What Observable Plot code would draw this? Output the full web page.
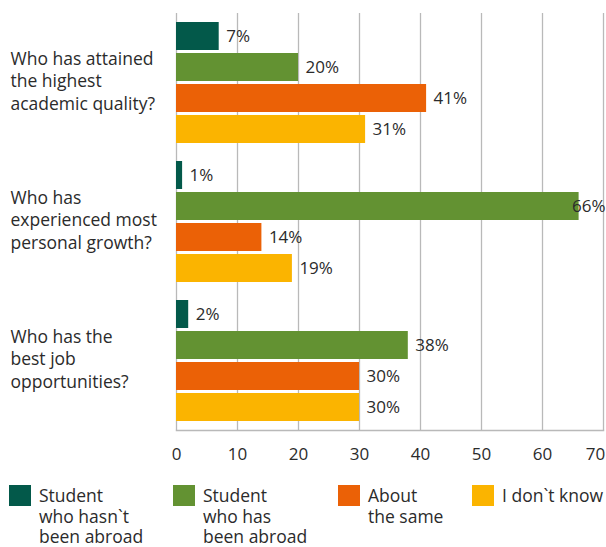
<!DOCTYPE html>
<html>
<head>
<meta charset="utf-8">
<script src="https://cdn.jsdelivr.net/npm/d3@7"></script>
<script src="https://cdn.jsdelivr.net/npm/@observablehq/plot@0.6"></script>
<style>
  body { margin: 0; background: #fff; font-family: "Open Sans", sans-serif; color: #2b2b2b; }
  #legend { display: flex; padding: 15px 0 0 9px; font-size: 17.5px; line-height: 20.5px; }
  .item { display: flex; align-items: flex-start; }
  .item:nth-child(1) { width: 164px; }
  .item:nth-child(2) { width: 165px; }
  .item:nth-child(3) { width: 134px; }
  .sw { width: 22px; height: 21px; margin-right: 8px; flex: none; }
  .lbl { margin-top: 0px; white-space: nowrap; }
</style>
</head>
<body>
<div id="chart"></div>
<div id="legend"></div>
<script>
const questions = [
  "Who has attained\nthe highest\nacademic quality?",
  "Who has\nexperienced most\npersonal growth?",
  "Who has the\nbest job\nopportunities?"
];
const series = [
  "Student\nwho hasn`t\nbeen abroad",
  "Student\nwho has\nbeen abroad",
  "About\nthe same",
  "I don`t know"
];
const colors = ["#03594a", "#639232", "#eb6106", "#fbb400"];
const notAbroad = [7, 1, 2];
const abroad = [20, 66, 38];
const same = [41, 14, 30];
const dontKnow = [31, 19, 30];
const xTicks = [0, 10, 20, 30, 40, 50, 60, 70];

const seriesValues = [notAbroad, abroad, same, dontKnow];
const data = [];
questions.forEach((q, qi) => {
  series.forEach((s, si) => {
    data.push({q, s, v: seriesValues[si][qi]});
  });
});

const overflow = d => d.v > 64;

const plot = Plot.plot({
  width: 606,
  height: 470,
  marginTop: 13,
  marginBottom: 40,
  marginLeft: 176,
  marginRight: 3,
  style: {fontFamily: "Open Sans, sans-serif", color: "#2b2b2b", background: "#fff"},
  x: {domain: [0, 70], ticks: xTicks, axis: null},
  y: {domain: series, paddingInner: 0.09, paddingOuter: 0.24, axis: null},
  fy: {domain: questions, padding: 0, axis: null},
  color: {domain: series, range: colors},
  marks: [
    Plot.gridX(xTicks, {stroke: "#b9b9b9", strokeOpacity: 1, strokeWidth: 1.3}),
    Plot.frame({anchor: "bottom", facetAnchor: "bottom", stroke: "#b9b9b9", strokeWidth: 1.5}),
    Plot.barX(data, {x: "v", y: "s", fy: "q", fill: "s"}),
    Plot.text(data.filter(d => !overflow(d)), {x: "v", y: "s", fy: "q", text: d => d.v + "%", textAnchor: "start", dx: 7, fontSize: 17, fill: "#2b2b2b"}),
    Plot.text(data.filter(overflow), {frameAnchor: "right", y: "s", fy: "q", text: d => d.v + "%", textAnchor: "end", dx: 2, fontSize: 17, fill: "#2b2b2b"}),
    Plot.text(questions, {fy: d => d, text: d => d, frameAnchor: "left", textAnchor: "start", dx: -166, dy: -3, lineHeight: 1.3, fontSize: 17.5, fill: "#2b2b2b"}),
    Plot.axisX(xTicks.slice(0, -1), {tickSize: 0, tickPadding: 17, fontSize: 17, fill: "#2b2b2b", label: null}),
    Plot.axisX(xTicks.slice(-1), {tickSize: 0, tickPadding: 17, fontSize: 17, fill: "#2b2b2b", label: null, dx: -8})
  ]
});
document.getElementById("chart").appendChild(plot);

const legend = document.getElementById("legend");
series.forEach((s, i) => {
  const item = document.createElement("div");
  item.className = "item";
  const sw = document.createElement("div");
  sw.className = "sw";
  sw.style.background = colors[i];
  const label = document.createElement("div");
  label.className = "lbl";
  label.innerHTML = s.split("\n").join("<br>");
  item.appendChild(sw);
  item.appendChild(label);
  legend.appendChild(item);
});
</script>
</body>
</html>
